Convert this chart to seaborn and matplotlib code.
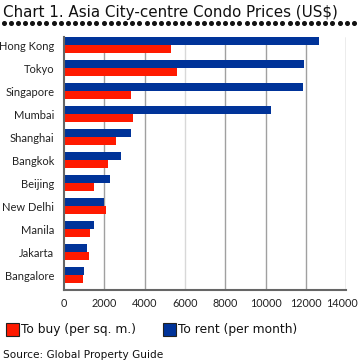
import matplotlib
matplotlib.use("Agg")
import matplotlib.pyplot as plt
from matplotlib.patches import Rectangle
from matplotlib.lines import Line2D
import seaborn as sns
import pandas as pd
import numpy as np

cities = ["Hong Kong", "Tokyo", "Singapore", "Mumbai", "Shanghai", "Bangkok",
          "Beijing", "New Delhi", "Manila", "Jakarta", "Bangalore"]
buy = [5300, 5600, 3300, 3400, 2580, 2170, 1490, 2080, 1310, 1220, 960]
rent = [12630, 11880, 11830, 10250, 3330, 2830, 2280, 1990, 1510, 1160, 980]
series_names = ["To buy (per sq. m.)", "To rent (per month)"]
xticks = [0, 2000, 4000, 6000, 8000, 10000, 12000, 14000]

RED = "#ff1a00"
BLUE = "#003399"

df = pd.DataFrame({
    "city": cities * 2,
    "value": rent + buy,
    "series": [series_names[1]] * len(cities) + [series_names[0]] * len(cities),
})

sns.set_style("white")
plt.rcParams["font.family"] = ["DejaVu Sans"]

fig = plt.figure(figsize=(3.6, 3.63), dpi=100)
ax = fig.add_axes([64 / 360, 1 - 290 / 363, (346.3 - 64) / 360, (290 - 37) / 363])

sns.barplot(data=df, y="city", x="value", hue="series", order=cities,
            hue_order=[series_names[1], series_names[0]],
            palette=[BLUE, RED], orient="h", width=0.7, ax=ax,
            edgecolor=None, linewidth=0, legend=False, saturation=1)

ax.set_xlim(0, 14000)
ax.set_ylim(10.65, -0.35)
ax.set_xticks(xticks)
# last label drawn separately (nudged left so it stays inside the figure)
ax.set_xticklabels([str(t) for t in xticks[:-1]] + [""], fontsize=7.8, family="Lato")
ax.annotate(str(xticks[-1]), xy=(xticks[-1], 0), xycoords=("data", "axes fraction"),
            xytext=(-3.0, -5.5), textcoords="offset points", ha="center", va="top",
            fontsize=7.8, family="Lato", color="#222222", annotation_clip=False)
ax.set_yticks(range(len(cities)))
ax.set_yticklabels(cities, fontsize=8.0, family="Lato")
ax.set_xlabel("")
ax.set_ylabel("")

ax.set_axisbelow(True)
ax.xaxis.grid(True, color="#a0a0a0", linewidth=1.0)
ax.yaxis.grid(False)
gl = ax.get_xgridlines()
gl[0].set_visible(False)
gl[3].set_color("#d8d8d8")

for s in ["top", "right"]:
    ax.spines[s].set_visible(False)
for s in ["left", "bottom"]:
    ax.spines[s].set_color("#666666")
    ax.spines[s].set_linewidth(1.5)
ax.tick_params(axis="x", length=3, width=1, color="#666666", pad=2.5, labelcolor="#222222")
ax.tick_params(axis="y", length=0, pad=7, labelcolor="#222222")

# Title
fig.text(3 / 360, 1 - 17 / 363, "Chart 1. Asia City-centre Condo Prices (US$)",
         fontsize=10.9, color="#111111", va="baseline", ha="left")
# dotted separator
xs = np.arange(3.5, 360, 7.15)
fig.add_artist(Line2D(xs / 360, np.full_like(xs, 1 - 23 / 363), linestyle="none",
                      marker="o", markersize=2.6, color="#111111",
                      transform=fig.transFigure))

# Legend
def legend_box(x, color):
    fig.add_artist(Rectangle((x / 360, 1 - 336 / 363), 13 / 360, 13 / 363,
                             facecolor=color, edgecolor="#222222", linewidth=0.8,
                             transform=fig.transFigure))

legend_box(6, RED)
fig.text(21 / 360, 1 - 329.5 / 363, series_names[0], fontsize=8.8, va="center",
         ha="left", color="#111111")
legend_box(163, BLUE)
fig.text(178 / 360, 1 - 329.5 / 363, series_names[1], fontsize=8.8, va="center",
         ha="left", color="#111111")

fig.text(3 / 360, 1 - 358 / 363, "Source: Global Property Guide", fontsize=7.6,
         va="baseline", ha="left", color="#111111")

fig.savefig("out.png", dpi=100)
